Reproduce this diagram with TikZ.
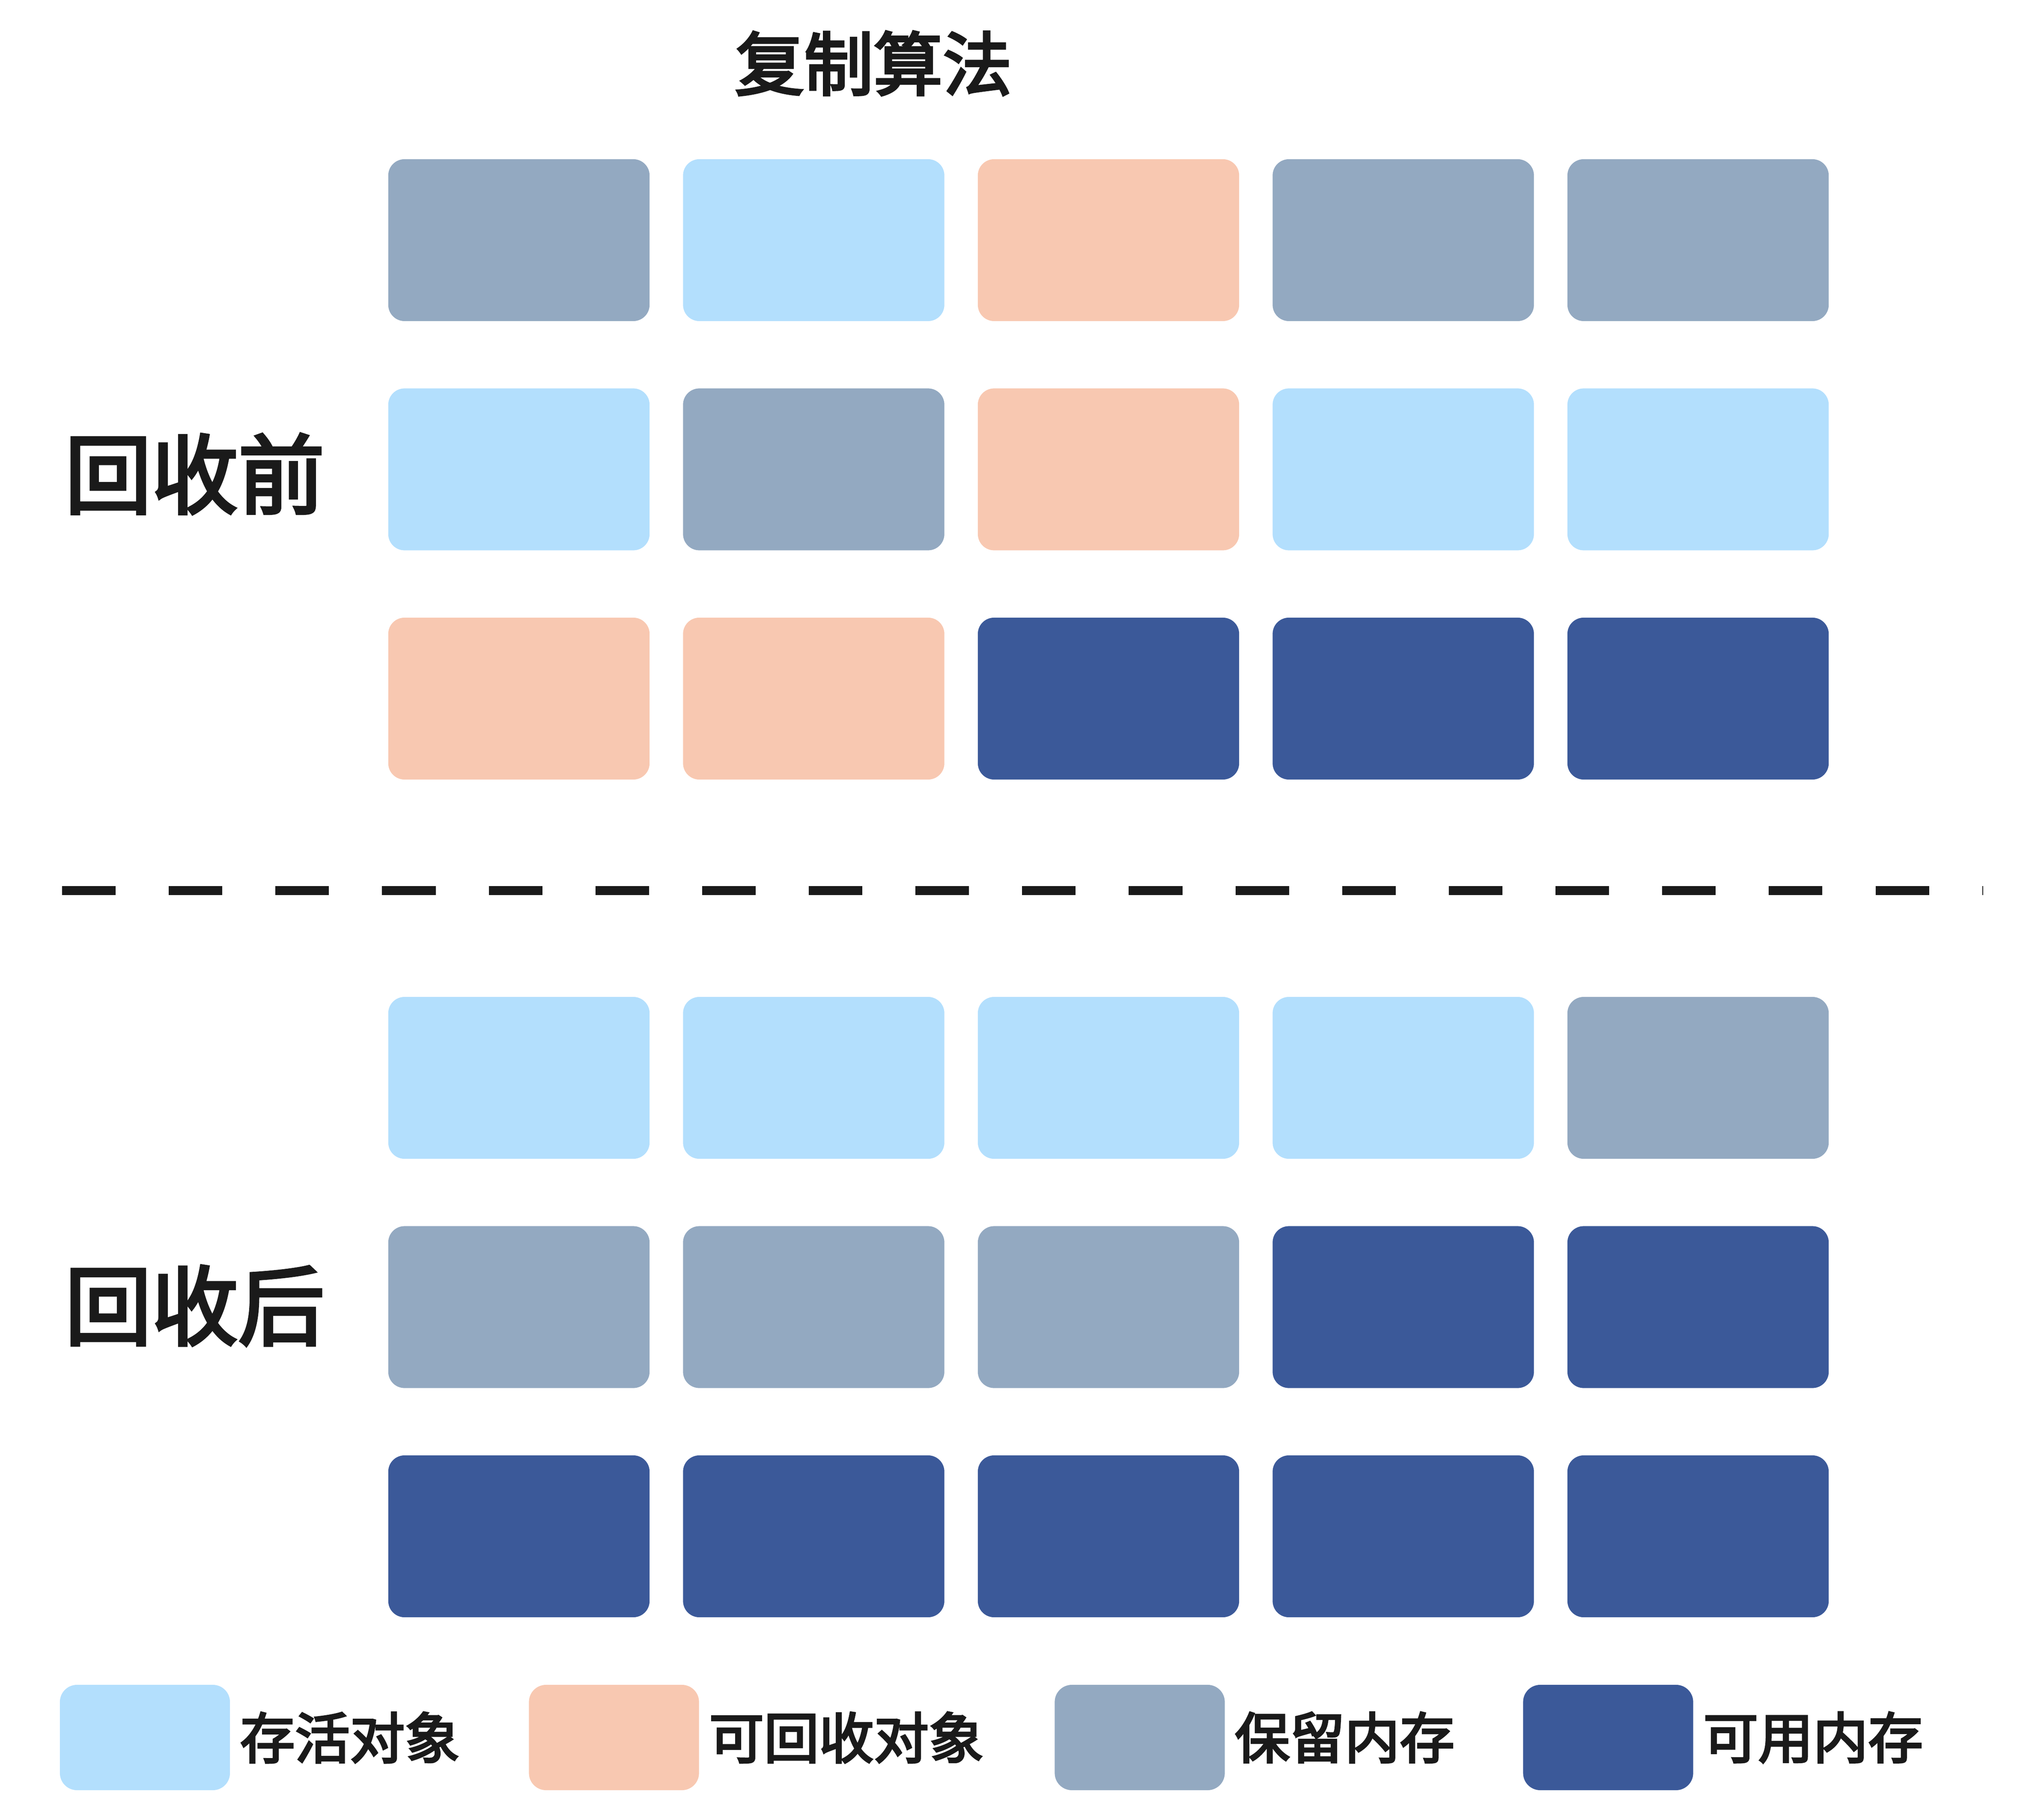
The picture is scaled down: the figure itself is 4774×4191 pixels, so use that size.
\documentclass[tikz,border=0pt]{standalone}
\usepackage{fontspec}
\setmainfont{Noto Sans CJK SC}
\newfontfamily\midfont{Noto Sans CJK SC}[FakeBold=3.5]
\usepackage{xcolor}
\usepackage{tikz}
\usetikzlibrary{positioning}
\definecolor{keepgray}{HTML}{93A9C1}
\definecolor{livelight}{HTML}{B3DFFD}
\definecolor{deadpeach}{HTML}{F8C8B1}
\definecolor{freedark}{HTML}{3B5999}
\definecolor{inkblack}{HTML}{1A1A1A}
\tikzset{
  cell/.style={inner sep=0pt, minimum width=6.1cm, minimum height=3.78cm, rounded corners=0.38cm},
  livebox/.style={cell, fill=livelight},
  deadbox/.style={cell, fill=deadpeach},
  keepbox/.style={cell, fill=keepgray},
  freebox/.style={cell, fill=freedark},
  swatch/.style={inner sep=0pt, minimum width=3.97cm, minimum height=2.46cm, rounded corners=0.4cm},
  legendtext/.style={inner sep=0pt, text=inkblack, font=\midfont\fontsize{36.5pt}{40pt}\selectfont},
}

\begin{document}
\begin{tikzpicture}[x=0.01cm, y=-0.01cm]
\useasboundingbox (0,0) rectangle (4774,4191);

\node [inner sep=0pt, text=inkblack, font=\midfont\fontsize{46pt}{50pt}\selectfont] (title) at (2040,148) {复制算法};
\node [inner sep=0pt, text=inkblack, font=\midfont\fontsize{57.5pt}{60pt}\selectfont] (before) at (455,1107) {回收前};
\node [inner sep=0pt, text=inkblack, font=\midfont\fontsize{57.5pt}{60pt}\selectfont] (after) at (455,3050) {回收后};

% vor der Sammlung
\node [keepbox] (b11) at (1212,561) {};
\node [livebox] (b12) at (1900.5,561) {};
\node [deadbox] (b13) at (2589,561) {};
\node [keepbox] (b14) at (3277.5,561) {};
\node [keepbox] (b15) at (3966,561) {};

\node [livebox] (b21) at (1212,1096.5) {};
\node [keepbox] (b22) at (1900.5,1096.5) {};
\node [deadbox] (b23) at (2589,1096.5) {};
\node [livebox] (b24) at (3277.5,1096.5) {};
\node [livebox] (b25) at (3966,1096.5) {};

\node [deadbox] (b31) at (1212,1632) {};
\node [deadbox] (b32) at (1900.5,1632) {};
\node [freebox] (b33) at (2589,1632) {};
\node [freebox] (b34) at (3277.5,1632) {};
\node [freebox] (b35) at (3966,1632) {};

\draw [line width=0.21cm, inkblack, dash pattern=on 1.25cm off 1.24cm] (145,2080) -- (4632,2080);

% nach der Sammlung
\node [livebox] (a11) at (1212,2518) {};
\node [livebox] (a12) at (1900.5,2518) {};
\node [livebox] (a13) at (2589,2518) {};
\node [livebox] (a14) at (3277.5,2518) {};
\node [keepbox] (a15) at (3966,2518) {};

\node [keepbox] (a21) at (1212,3053.5) {};
\node [keepbox] (a22) at (1900.5,3053.5) {};
\node [keepbox] (a23) at (2589,3053.5) {};
\node [freebox] (a24) at (3277.5,3053.5) {};
\node [freebox] (a25) at (3966,3053.5) {};

\node [freebox] (a31) at (1212,3589) {};
\node [freebox] (a32) at (1900.5,3589) {};
\node [freebox] (a33) at (2589,3589) {};
\node [freebox] (a34) at (3277.5,3589) {};
\node [freebox] (a35) at (3966,3589) {};

% Legende
\node [swatch, fill=livelight] (swlive) at (338.5,4059) {};
\node [legendtext, right=0.22cm of swlive] (lglive) {存活对象};
\node [swatch, fill=deadpeach] (swdead) at (1434,4059) {};
\node [legendtext, right=0.22cm of swdead] (lgdead) {可回收对象};
\node [swatch, fill=keepgray] (swkeep) at (2662,4059) {};
\node [legendtext, right=0.22cm of swkeep] (lgkeep) {保留内存};
\node [swatch, fill=freedark] (swfree) at (3756,4059) {};
\node [legendtext, right=0.22cm of swfree] (lgfree) {可用内存};
\end{tikzpicture}
\end{document}
